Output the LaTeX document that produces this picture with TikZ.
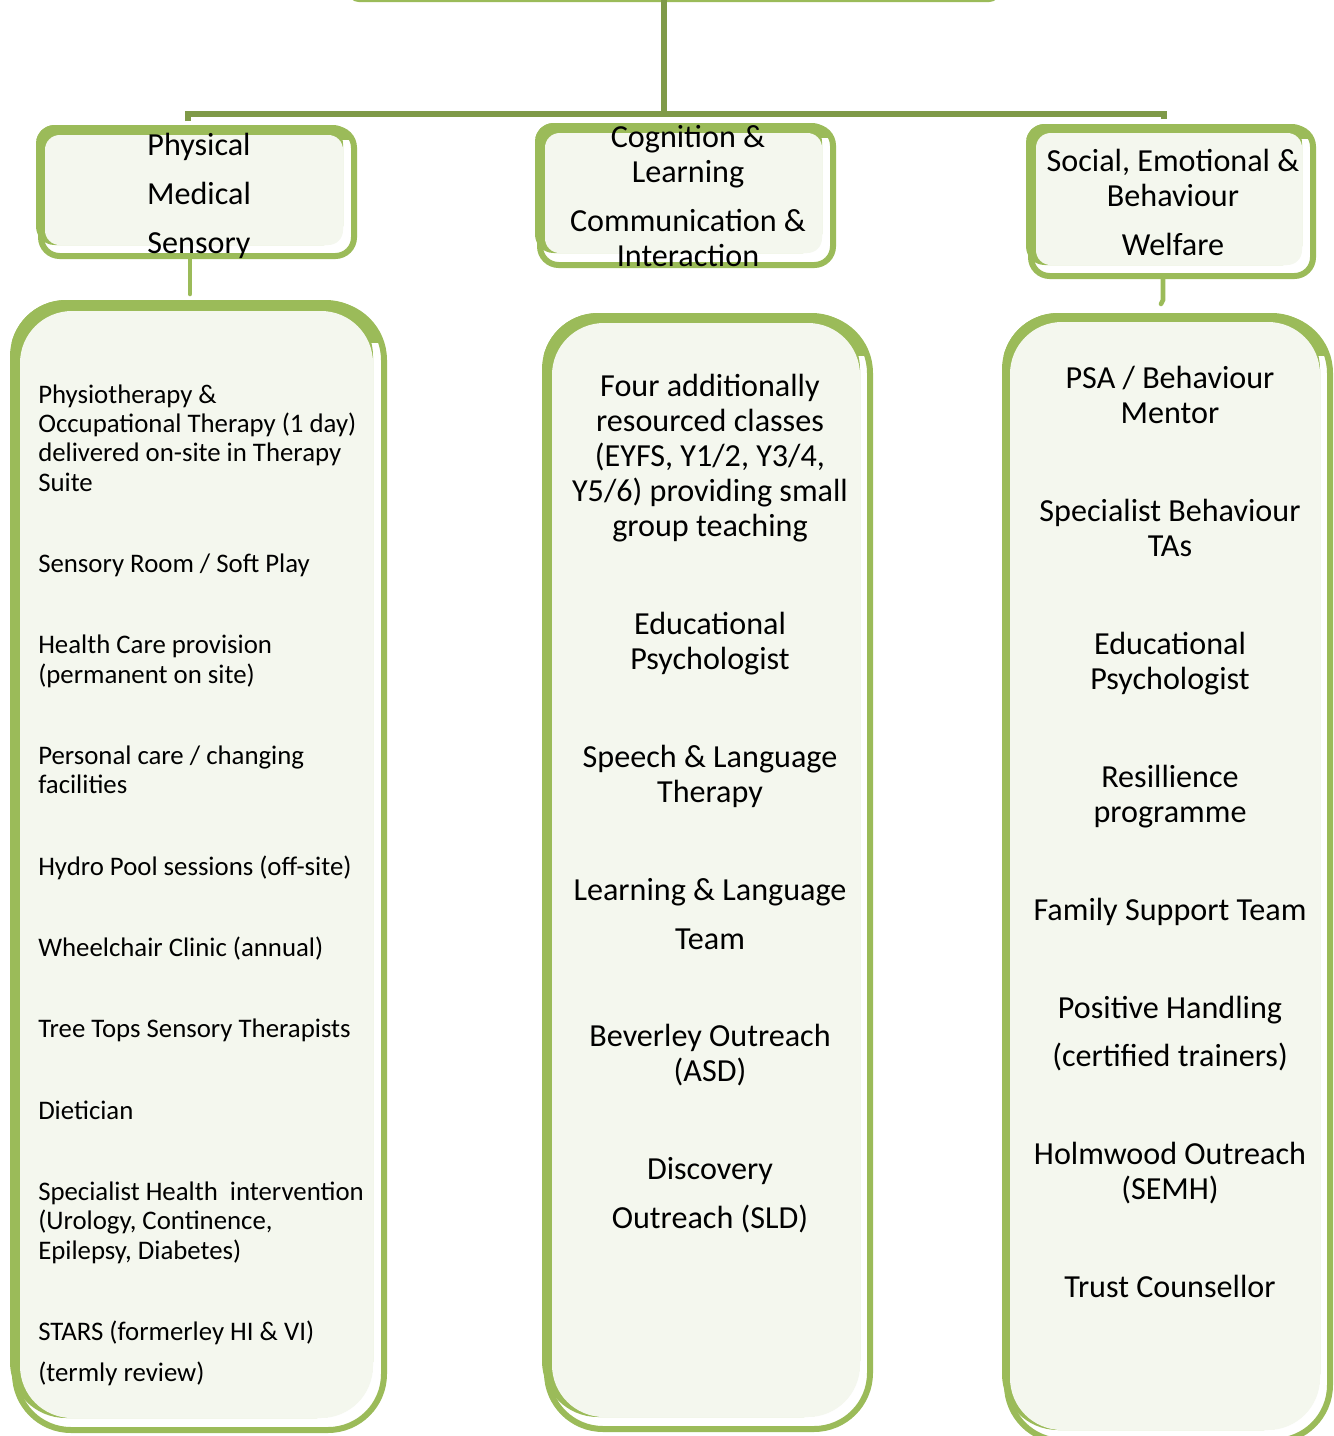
\documentclass[tikz,border=0pt]{standalone}
\usepackage{fontspec}
\setmainfont{Carlito}
\definecolor{sgreen}{HTML}{9BBB59}
\definecolor{dgreen}{HTML}{7F9A48}
\definecolor{sfill}{HTML}{F4F7EE}
\begin{document}
\begin{tikzpicture}[x=0.75pt,y=-0.75pt,
  backA/.style={fill=sgreen,draw=none},
  outB/.style={draw=sgreen,fill=white,line width=4.5},
  fillC/.style={fill=sfill,draw=none},
  lt/.style={anchor=base west,inner sep=0,font=\fontsize{20.1}{24}\selectfont},
  ct/.style={anchor=base,inner sep=0,font=\fontsize{24.1}{29}\selectfont},
  conn/.style={draw=dgreen,line width=3.8},
  lconn/.style={draw=sgreen,line width=3.4,line cap=round}]
\useasboundingbox (0,0) rectangle (1334,1436);

% title box (cut off at top)
\fill[sgreen,rounded corners=8] (348,-60) rectangle (1000,2);
\coordinate (titlebot) at (664,0);

\newcommand\dbox[9]{%
  \draw[outB,rounded corners=#9] (#1+5,#2+4) rectangle (#5,#6);
  \fill[backA,rounded corners=#9] (#1,#2) rectangle (#3,#4);
  \begin{scope}
    \clip (#1-5,#2-5) rectangle (#5+5,#2+#9);
    \fill[backA,rounded corners=#9] (#1,#2) rectangle (#5-2,#6);
  \end{scope}
  \fill[fillC,rounded corners=#9-3] (#7,#8) rectangle (#3,#4);
}
% header boxes
\dbox{36}{125}{343}{245}{354}{256}{45}{135}{14}
\dbox{535}{123}{822}{253}{833}{265}{545}{133}{14}
\dbox{1026}{124}{1302}{265}{1313}{276}{1036}{133}{14}

% big boxes
\dbox{10}{300}{373}{1418}{384}{1430}{20}{311}{42}
\dbox{542}{313}{860}{1417}{870}{1429}{552}{323}{42}
\dbox{1002}{313}{1320}{1430}{1330}{1441}{1010}{322}{42}

% named connection points
\coordinate (hub) at (664,114);
\coordinate (lend) at (188,121);
\coordinate (rend) at (1164,119);
\coordinate (h1bot) at (190,259);
\coordinate (b1top) at (190,294);
\coordinate (h3bot) at (1163,279);
\coordinate (b3top) at (1161,304);

\draw[conn] (titlebot) -- (hub);
\draw[conn] (lend) -- (188,114) -- (1164,114) -- (rend);
\draw[lconn] (h1bot) -- (b1top);
\draw[lconn] (h3bot) -- (1163,300) -- (b3top);

% header texts
\foreach \yy/\tt [count=\i] in {155/Physical,204/Medical,253/Sensory}
  \node[ct] (ha\i) at (199,\yy) {\tt};
\foreach \yy/\tt [count=\i] in {147/{Cognition \&},182/Learning,231/{Communication \&},266/Interaction}
  \node[ct] (hb\i) at (688,\yy) {\tt};
\foreach \yy/\tt [count=\i] in {171/{Social, Emotional \&},206/Behaviour,255/Welfare}
  \node[ct] (hc\i) at (1173,\yy) {\tt};

% left column
\foreach \yy/\tt [count=\i] in {
  403/{Physiotherapy \&},
  432/{Occupational Therapy (1 day)},
  461/{delivered on-site in Therapy},
  491/{Suite},
  572/{Sensory Room / Soft Play},
  653/{Health Care provision},
  683/{(permanent on site)},
  764/{Personal care / changing},
  793/{facilities},
  875/{Hydro Pool sessions (off-site)},
  956/{Wheelchair Clinic (annual)},
  1037/{Tree Tops Sensory Therapists},
  1119/{Dietician},
  1200/{Specialist Health\ \ intervention},
  1229/{(Urology, Continence,},
  1259/{Epilepsy, Diabetes)},
  1340/{STARS (formerley HI \& VI)},
  1381/{(termly review)}}
  \node[lt] (l\i) at (38,\yy) {\tt};

% centre column
\foreach \yy/\tt [count=\i] in {
  396/{Four additionally},
  431/{resourced classes},
  466/{(EYFS, Y1/2, Y3/4,},
  501/{Y5/6) providing small},
  536/{group teaching},
  634/{Educational},
  669/{Psychologist},
  767/{Speech \& Language},
  802/{Therapy},
  900/{Learning \& Language},
  949/{Team},
  1046/{Beverley Outreach},
  1081/{(ASD)},
  1179/{Discovery},
  1228/{Outreach (SLD)}}
  \node[ct] (c\i) at (710,\yy) {\tt};

% right column
\foreach \yy/\tt [count=\i] in {
  388/{PSA / Behaviour},
  423/{Mentor},
  521/{Specialist Behaviour},
  556/{TAs},
  654/{Educational},
  689/{Psychologist},
  787/{Resillience},
  822/{programme},
  920/{Family Support Team},
  1018/{Positive Handling},
  1066/{(certified trainers)},
  1164/{Holmwood Outreach},
  1199/{(SEMH)},
  1297/{Trust Counsellor}}
  \node[ct] (r\i) at (1170,\yy) {\tt};
\end{tikzpicture}
\end{document}
